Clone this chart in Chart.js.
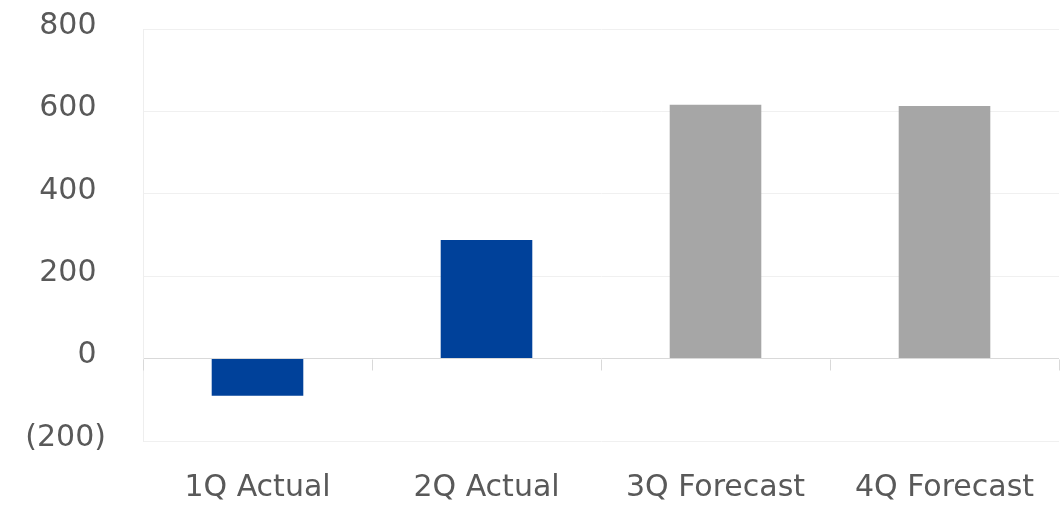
<!DOCTYPE html>
<html>
<head>
<meta charset="utf-8">
<script src="https://cdn.jsdelivr.net/npm/chart.js@4/dist/chart.umd.min.js"></script>
<style>
  html, body { margin: 0; padding: 0; background: #fff; }
  #wrap { width: 1063px; height: 506px; }
</style>
</head>
<body>
<div id="wrap"><canvas id="chart"></canvas></div>
<script>
const categories = ['1Q Actual', '2Q Actual', '3Q Forecast', '4Q Forecast'];
const profit = [-90, 288, 616, 613];
const yTicks = [-200, 0, 200, 400, 600, 800];

const BLUE = '#00419a';
const GRAY = '#a6a6a6';
const TEXT = '#595959';

// short tick marks hanging below the zero line at each category boundary
const zeroTicks = {
  id: 'zeroTicks',
  afterDatasetsDraw(chart) {
    const x = chart.scales.x, y = chart.scales.y;
    const y0 = Math.round(y.getPixelForValue(0)) + 0.5;
    const step = (x.right - x.left) / categories.length;
    const ctx = chart.ctx;
    ctx.save();
    ctx.strokeStyle = '#d9d9d9';
    ctx.lineWidth = 1;
    ctx.beginPath();
    for (let i = 0; i <= categories.length; i++) {
      const px = Math.round(x.left + i * step) + 0.5;
      ctx.moveTo(px, y0);
      ctx.lineTo(px, y0 + 11);
    }
    ctx.stroke();
    ctx.restore();
  }
};

// accounting style: negatives in brackets, positives padded so digits line up
const fmt = v => v < 0 ? '(' + Math.abs(v) + ')' : v + ' ';

new Chart(document.getElementById('chart'), {
  type: 'bar',
  data: {
    labels: categories,
    datasets: [{
      data: profit,
      backgroundColor: c => categories[c.dataIndex].includes('Forecast') ? GRAY : BLUE,
      categoryPercentage: 1,
      barPercentage: 0.4
    }]
  },
  options: {
    responsive: true,
    maintainAspectRatio: false,
    animation: false,
    layout: { padding: { top: 29, right: 4, left: 0, bottom: 0 } },
    plugins: { legend: { display: false }, tooltip: { enabled: false } },
    scales: {
      x: {
        afterFit: s => { s.height = 65; s.paddingLeft = 0; s.paddingRight = 0; },
        grid: {
          offset: true,
          drawTicks: false,
          color: c => (c.index === 0 || c.index === categories.length) ? '#eeeeee' : 'rgba(0,0,0,0)'
        },
        border: { display: false },
        ticks: {
          color: TEXT,
          padding: 29,
          font: { family: 'DejaVu Sans', size: 30 }
        }
      },
      y: {
        min: yTicks[0],
        max: yTicks[yTicks.length - 1],
        afterFit: s => { s.width = 143; s.paddingTop = 0; s.paddingBottom = 0; },
        afterBuildTicks: s => { s.ticks = yTicks.map(v => ({ value: v })); },
        grid: {
          drawTicks: false,
          color: c => c.tick && c.tick.value === 0 ? '#d9d9d9' : '#f0f0f0'
        },
        border: { display: true, color: '#eeeeee' },
        ticks: {
          color: TEXT,
          padding: 37,
          labelOffset: -3,
          font: { family: 'DejaVu Sans', size: 30 },
          callback: fmt
        }
      }
    }
  },
  plugins: [zeroTicks]
});
</script>
</body>
</html>
